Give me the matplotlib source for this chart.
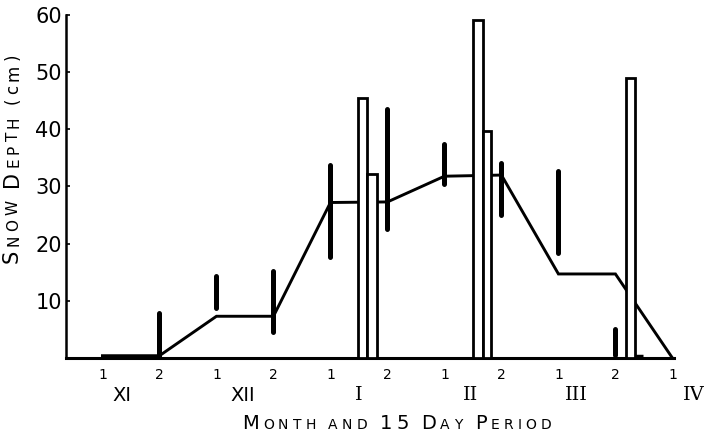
import numpy as np
import matplotlib
matplotlib.use("Agg")
import matplotlib.pyplot as plt

# 15-day periods: XI-1 ... IV-1
periods = ["1", "2", "1", "2", "1", "2", "1", "2", "1", "2", "1"]
months = ["XI", "XII", "I", "II", "III", "IV"]
month_pos = [0.34, 2.46, 4.49, 6.46, 8.32, 10.38]

# mean snow depth per period (cm)
mean_depth = [0.4, 0.4, 7.3, 7.3, 27.2, 27.3, 31.8, 32.0, 14.7, 14.7, 0.0]

# range of depth per period (cm)
range_pos = [1, 2, 3, 4, 5, 6, 7, 8, 9]
range_low = [0.0, 8.8, 4.6, 17.7, 22.5, 30.5, 25.1, 18.3, 0.5]
range_high = [7.8, 14.3, 15.2, 33.7, 43.6, 37.5, 34.1, 32.7, 5.0]

# open bars (single observations)
bar_left = [4.48, 4.65, 6.50, 6.67, 9.18]
bar_width = [0.17, 0.16, 0.17, 0.14, 0.16]
bar_height = [45.4, 32.2, 59.1, 39.7, 48.9]

# small stub after last bar
stub_x = [9.35, 9.48]
stub_y = [0.4, 0.4]


def spaced_label(ax, parts, x0, y0, vertical=False, gap=2.0, word_gap=6.0):
    # draws letters one by one so we get small caps + letter spacing
    prev = None
    extra = 0.0
    for txt, size in parts:
        for ch in txt:
            if ch == " ":
                extra += word_gap
                continue
            kw = dict(fontsize=size, color="black", annotation_clip=False,
                      ha="left", va="baseline", family="DejaVu Sans")
            if vertical:
                kw.update(rotation=90, rotation_mode="anchor")
            if prev is None:
                prev = ax.annotate(ch, xy=(x0, y0), xycoords="figure pixels", **kw)
            elif vertical:
                prev = ax.annotate(ch, xy=(x0, 1), xycoords=("figure pixels", prev),
                                   xytext=(0, gap + extra), textcoords="offset points", **kw)
            else:
                prev = ax.annotate(ch, xy=(1, y0), xycoords=(prev, "figure pixels"),
                                   xytext=(gap + extra, 0), textcoords="offset points", **kw)
            extra = 0.0


fig = plt.figure(figsize=(7.05, 4.36), dpi=100)
ax = fig.add_axes([0.0936, 0.1789, 0.8618, 0.7867])

x = np.arange(len(mean_depth))
ax.plot(x, mean_depth, color="black", lw=2.1, solid_joinstyle="miter", zorder=2)
ax.plot(stub_x, stub_y, color="black", lw=2.5, solid_capstyle="butt", zorder=2)

ax.vlines(range_pos, range_low, range_high, color="black", lw=3.6,
          capstyle="round", zorder=3)

ax.bar(bar_left, bar_height, width=bar_width, align="edge", facecolor="white",
       edgecolor="black", linewidth=2.0, zorder=4)

ax.set_xlim(-0.64, 10.02)
ax.set_ylim(0, 60)

ax.spines["top"].set_visible(False)
ax.spines["right"].set_visible(False)
ax.spines["left"].set_linewidth(1.8)
ax.spines["bottom"].set_linewidth(2.2)

ax.set_yticks([10, 20, 30, 40, 50, 60])
ax.tick_params(axis="y", direction="in", length=3, width=1.2, pad=3, labelsize=15)
ax.set_xticks(x)
ax.set_xticklabels(periods)
ax.tick_params(axis="x", length=0, pad=7, labelsize=10)

for m, p in zip(months, month_pos):
    fam = "DejaVu Sans" if m.startswith("X") else "DejaVu Serif"
    ax.text(p, -0.108, m, transform=ax.get_xaxis_transform(), ha="center",
            va="center", fontsize=14, family=fam)

spaced_label(ax, [("M", 14), ("ONTH AND", 10), (" 15", 14), (" D", 14), ("AY", 10),
                  (" P", 14), ("ERIOD", 10)], 242, 7, gap=3.0, word_gap=6)
spaced_label(ax, [("S", 15), ("NOW", 11), (" D", 15), ("EPTH", 11), (" (cm)", 12)],
             18, 173, vertical=True, gap=2.8, word_gap=6)

fig.savefig("out.png", dpi=100)
